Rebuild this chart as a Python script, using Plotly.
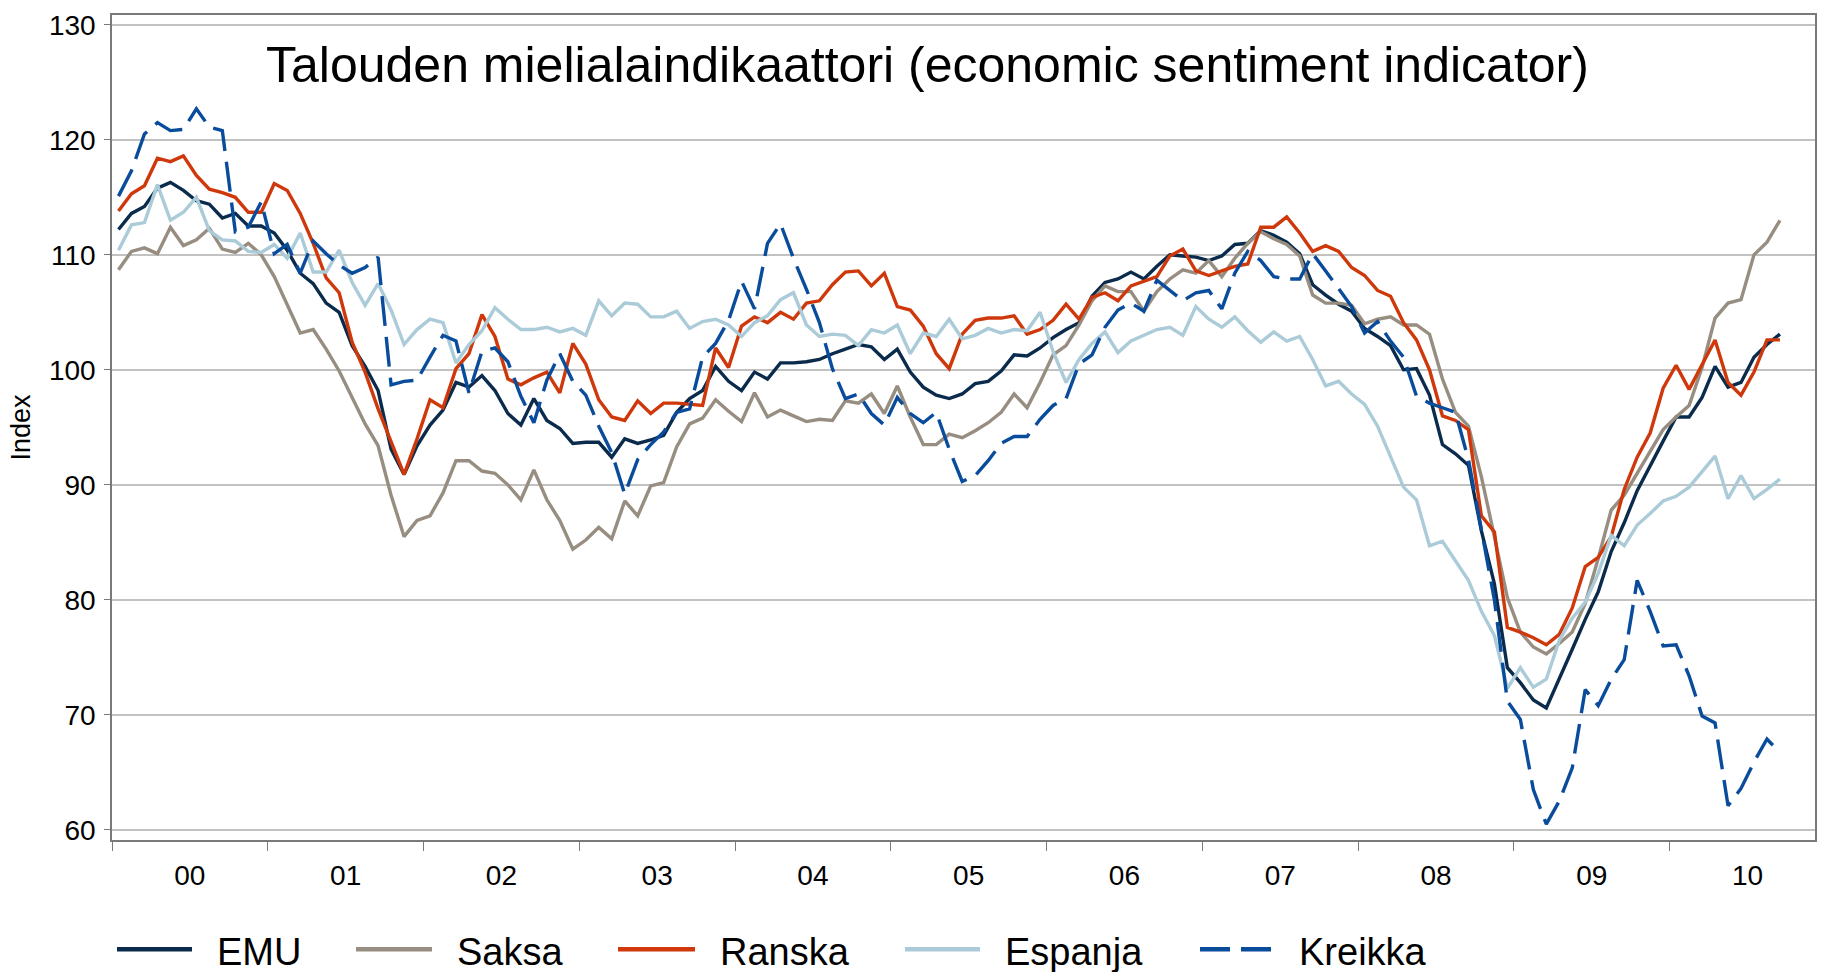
import plotly.graph_objects as go

# ---------------- data (monthly, Jan 2000 - Sep 2010) ----------------
year_labels = ["00", "01", "02", "03", "04", "05", "06", "07", "08", "09", "10"]

emu = [112.2, 113.6, 114.2, 115.8, 116.3, 115.6, 114.7, 114.4, 113.2, 113.6, 112.5, 112.5,
       111.9, 110.4, 108.4, 107.5, 105.8, 105.0, 102.1, 100.3, 98.2, 93.1, 90.9, 93.4,
       95.2, 96.5, 98.9, 98.5, 99.5, 98.2, 96.2, 95.2, 97.5, 95.6, 94.9, 93.6,
       93.7, 93.7, 92.4, 94.0, 93.6, 93.9, 94.3, 96.3, 97.5, 98.2, 100.3, 99.0,
       98.2, 99.8, 99.2, 100.6, 100.6, 100.7, 100.9, 101.4, 101.8, 102.2, 102.0, 100.9,
       101.8, 99.8, 98.5, 97.8, 97.5, 97.9, 98.8, 99.0, 99.9, 101.3, 101.2, 101.9,
       102.8, 103.5, 104.1, 106.4, 107.6, 107.9, 108.5, 107.9, 109.0, 110.0, 109.9, 109.8,
       109.5, 109.9, 110.9, 111.0, 112.1, 111.7, 111.1, 110.1, 107.4, 106.5, 105.7, 105.1,
       103.6, 102.9, 102.1, 100.0, 100.1, 97.8, 93.5, 92.7, 91.7, 86.0, 81.4, 74.1,
       72.8, 71.3, 70.6, 73.1, 75.7, 78.3, 80.7, 84.2, 86.7, 89.5, 91.7, 93.8,
       95.9, 95.9, 97.6, 100.3, 98.5, 98.9, 101.1, 102.2, 103.1]

saksa = [108.7, 110.3, 110.6, 110.1, 112.4, 110.8, 111.3, 112.3, 110.5, 110.2, 111.0, 110.0,
         108.1, 105.7, 103.2, 103.5, 101.8, 99.9, 97.6, 95.3, 93.4, 89.1, 85.5, 86.9,
         87.3, 89.3, 92.1, 92.1, 91.2, 91.0, 90.0, 88.7, 91.3, 88.7, 86.9, 84.4,
         85.2, 86.3, 85.3, 88.6, 87.3, 89.9, 90.2, 93.3, 95.3, 95.8, 97.4, 96.4,
         95.5, 98.0, 95.9, 96.5, 96.0, 95.5, 95.7, 95.6, 97.3, 97.1, 97.9, 96.2,
         98.6, 95.9, 93.5, 93.5, 94.4, 94.1, 94.7, 95.4, 96.3, 97.9, 96.7, 98.9,
         101.3, 102.1, 103.9, 106.0, 107.3, 106.8, 106.8, 105.1, 106.8, 107.9, 108.7, 108.4,
         109.5, 108.1, 109.7, 111.0, 112.0, 111.4, 110.9, 109.9, 106.5, 105.8, 105.8, 105.6,
         104.0, 104.4, 104.6, 103.9, 103.9, 103.1, 99.2, 96.3, 95.1, 90.7, 85.5, 80.2,
         77.2, 75.9, 75.3, 76.2, 77.2, 79.7, 83.6, 87.8, 89.1, 91.0, 93.0, 94.8,
         95.9, 96.9, 100.2, 104.5, 105.8, 106.1, 110.0, 111.1, 113.0]

ranska = [113.8, 115.3, 116.0, 118.4, 118.1, 118.6, 116.9, 115.7, 115.4, 115.0, 113.7, 113.7,
          116.2, 115.6, 113.6, 111.0, 108.0, 106.7, 102.4, 99.8, 96.6, 93.7, 90.9, 94.0,
          97.4, 96.7, 100.1, 101.4, 104.8, 102.9, 99.2, 98.7, 99.3, 99.8, 98.0, 102.3,
          100.5, 97.4, 95.9, 95.6, 97.3, 96.2, 97.1, 97.1, 97.0, 96.9, 101.9, 100.2,
          103.8, 104.6, 104.1, 105.0, 104.4, 105.8, 106.0, 107.4, 108.5, 108.6, 107.3, 108.4,
          105.5, 105.2, 103.8, 101.4, 100.1, 103.1, 104.3, 104.5, 104.5, 104.7, 103.1, 103.5,
          104.3, 105.7, 104.4, 106.3, 106.7, 106.0, 107.3, 107.7, 108.1, 109.9, 110.5, 108.6,
          108.2, 108.6, 109.0, 109.2, 112.4, 112.4, 113.3, 111.9, 110.3, 110.8, 110.3, 108.9,
          108.2, 106.9, 106.4, 104.1, 102.6, 100.0, 96.0, 95.6, 94.8, 87.3, 85.9, 77.6,
          77.2, 76.7, 76.1, 77.0, 79.3, 82.9, 83.7, 85.5, 89.6, 92.4, 94.5, 98.4,
          100.4, 98.3, 100.5, 102.6, 98.9, 97.8, 99.8, 102.6, 102.6]

espanja = [110.4, 112.6, 112.8, 116.1, 113.0, 113.7, 115.0, 112.1, 111.3, 111.2, 110.3, 110.2,
           110.9, 109.7, 111.9, 108.5, 108.5, 110.4, 107.6, 105.6, 107.5, 105.2, 102.2, 103.5,
           104.4, 104.1, 100.6, 102.2, 103.4, 105.4, 104.4, 103.5, 103.5, 103.7, 103.3, 103.6,
           103.0, 106.0, 104.7, 105.8, 105.7, 104.6, 104.6, 105.1, 103.6, 104.2, 104.4, 103.9,
           102.9, 104.1, 104.7, 106.1, 106.7, 103.9, 102.9, 103.1, 103.0, 102.1, 103.5, 103.2,
           103.9, 101.4, 103.2, 102.9, 104.4, 102.7, 103.0, 103.6, 103.2, 103.5, 103.4, 105.0,
           101.6, 98.9, 100.9, 102.3, 103.3, 101.5, 102.5, 103.0, 103.5, 103.7, 103.0, 105.5,
           104.4, 103.7, 104.6, 103.4, 102.4, 103.3, 102.5, 102.9, 100.9, 98.6, 99.0, 97.9,
           97.0, 95.1, 92.5, 89.8, 88.7, 84.7, 85.1, 83.4, 81.7, 79.0, 76.9, 72.3,
           74.1, 72.4, 73.1, 76.5, 78.4, 79.8, 82.3, 85.6, 84.7, 86.5, 87.5, 88.6,
           89.0, 89.8, 91.1, 92.5, 88.8, 90.8, 88.8, 89.6, 90.5]

kreikka = [115.1, 117.3, 120.5, 121.5, 120.8, 120.9, 122.7, 121.1, 120.8, 112.0, 112.4, 114.6,
           110.1, 110.9, 108.4, 111.2, 110.1, 109.1, 108.4, 108.9, 109.8, 98.7, 99.0, 99.1,
           101.1, 103.0, 102.5, 98.0, 101.6, 101.9, 100.7, 97.7, 95.4, 99.1, 101.4, 99.0,
           97.8, 95.1, 92.8, 89.2, 92.2, 93.5, 94.6, 96.3, 96.6, 101.1, 102.3, 104.3,
           107.7, 105.3, 111.0, 112.7, 109.7, 107.0, 104.1, 100.1, 97.5, 97.9, 96.2, 95.2,
           97.6, 96.2, 95.4, 96.3, 93.1, 90.3, 90.8, 92.1, 93.6, 94.2, 94.2, 95.7,
           96.9, 97.5, 100.5, 101.3, 103.7, 105.2, 105.8, 105.1, 107.8, 106.9, 106.0, 106.7,
           106.9, 105.3, 108.4, 110.3, 109.5, 108.1, 107.9, 107.9, 110.1, 108.6, 107.0, 105.5,
           103.2, 104.2, 102.5, 101.1, 97.7, 97.1, 96.7, 96.3, 92.2, 86.1, 80.0, 71.2,
           69.6, 63.5, 60.5, 62.5, 65.4, 72.2, 70.8, 73.1, 74.8, 81.7, 79.0, 76.0,
           76.1, 73.4, 69.9, 69.3, 62.1, 63.6, 65.9, 67.9, 66.7]

series_names = ["EMU", "Saksa", "Ranska", "Espanja", "Kreikka"]
series_values = [emu, saksa, ranska, espanja, kreikka]
series_colors = ["#0b2b4c", "#978d80", "#cf380b", "#abcbd8", "#0a4c9c"]
series_dash = ["solid", "solid", "solid", "solid", "30px,11px"]

months = list(range(len(emu)))
FONT = "Liberation Sans, Arial, sans-serif"
AXIS_COLOR = "#7a7a7a"

fig = go.Figure()
for name, vals, col, dash in zip(series_names, series_values, series_colors, series_dash):
    fig.add_trace(go.Scatter(x=months, y=vals, mode="lines", name=name,
                             line=dict(color=col, width=3.4, dash=dash),
                             showlegend=False))

# plot area geometry (pixels)
L, R, T, B = 112, 15, 10, 132
W = 1830 - L - R
H = 972 - T - B

fig.update_layout(
    width=1830, height=972,
    margin=dict(l=L, r=R, t=T, b=B),
    paper_bgcolor="white", plot_bgcolor="white",
    font=dict(family=FONT, color="black"),
)

fig.update_xaxes(
    range=[-0.5, 130.7],
    tickmode="array",
    tickvals=[5.5 + 12 * k for k in range(len(year_labels))],
    ticktext=year_labels,
    ticks="", showgrid=False, zeroline=False,
    showline=True, linecolor=AXIS_COLOR, linewidth=1.5, mirror=True,
    tickfont=dict(size=28, family=FONT, color="black"),
    ticklabelstandoff=10,
    minor=dict(tickmode="array",
               tickvals=[-0.5 + 12 * k for k in range(len(year_labels))],
               ticks="outside", ticklen=9, tickwidth=1.3, tickcolor=AXIS_COLOR,
               showgrid=False),
)

fig.update_yaxes(
    range=[59.12, 130.85],
    tickmode="array", tickvals=list(range(60, 131, 10)),
    ticks="outside", ticklen=6, tickwidth=1.3, tickcolor=AXIS_COLOR,
    showgrid=True, gridcolor="#c2c2c2", gridwidth=1.5, zeroline=False,
    showline=True, linecolor=AXIS_COLOR, linewidth=1.5, mirror=True,
    tickfont=dict(size=28, family=FONT, color="black"),
    ticklabelstandoff=3,
    title=dict(text="Index", font=dict(size=27, family=FONT, color="black"), standoff=10),
)

# chart title inside the plot area
fig.add_annotation(
    text="Talouden mielialaindikaattori (economic sentiment indicator)",
    xref="paper", yref="paper", x=(927 - L) / W, y=(T + H - 60) / H,
    xanchor="center", yanchor="middle", showarrow=False,
    font=dict(size=50, family=FONT, color="black"),
)

# legend below the plot (custom, to match long line samples)
legend_line_x = [(117, 192), (356, 432), (618, 695), (905, 980), (1200, 1275)]
legend_text_x = [215, 455, 718, 1003, 1297]
ly = (T + H - 950) / H
for name, col, dash, (x0, x1), tx in zip(series_names, series_colors, series_dash,
                                         legend_line_x, legend_text_x):
    fig.add_shape(type="line", xref="paper", yref="paper",
                  x0=(x0 - L) / W, x1=(x1 - L) / W, y0=ly, y1=ly,
                  line=dict(color=col, width=4.5, dash=dash))
    fig.add_annotation(text=name, xref="paper", yref="paper",
                       x=(tx - L) / W, y=(T + H - 953) / H,
                       xanchor="left", yanchor="middle", showarrow=False,
                       font=dict(size=38, family=FONT, color="black"))

fig.write_html("out.html",
               config={"displayModeBar": False},
               post_script="document.body.style.margin='0px';document.body.style.overflow='hidden';")
